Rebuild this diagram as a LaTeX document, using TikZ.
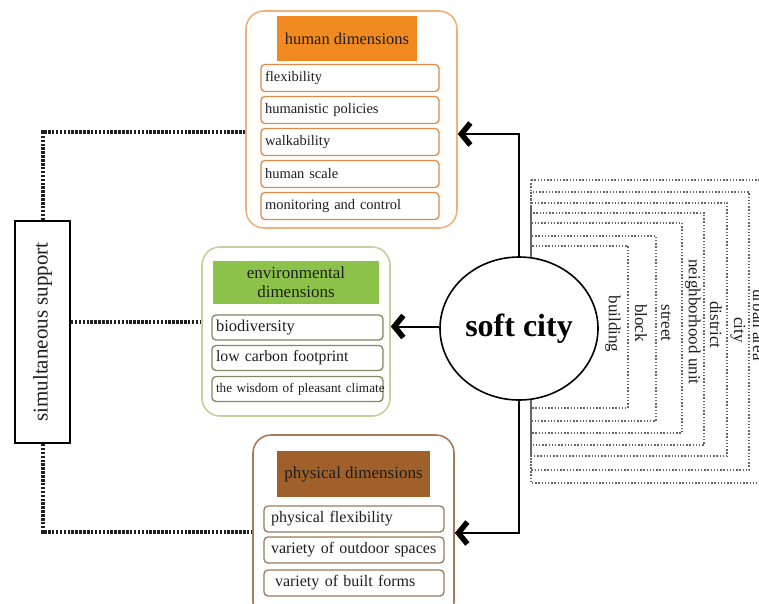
\documentclass[tikz,border=0pt]{standalone}
\usepackage{fontspec}
\usepackage{graphicx}
\setmainfont{Liberation Serif}
\usetikzlibrary{arrows.meta,shapes.geometric}
\definecolor{orgline}{HTML}{F2B07A}
\definecolor{orgfill}{HTML}{F28A22}
\definecolor{orgitem}{HTML}{E08A4A}
\definecolor{grnline}{HTML}{BFD49A}
\definecolor{grnfill}{HTML}{8CC24A}
\definecolor{grnitem}{HTML}{7E8A62}
\definecolor{brnline}{HTML}{A87A55}
\definecolor{brnfill}{HTML}{A0602A}
\definecolor{brnitem}{HTML}{9A7A60}
\definecolor{txt}{HTML}{1E1E1E}
\tikzset{
  outerbox/.style={draw, line width=1.6pt, rounded corners=18pt, minimum width=#1, inner sep=0pt},
  headbox/.style={rectangle, inner sep=0pt, text=txt, align=center},
  itembox/.style={draw, line width=1.3pt, rounded corners=4pt, inner ysep=0pt, align=left, text=txt},
  conn/.style={line width=2pt, -{Straight Barb[length=9pt,width=22pt,line width=5.5pt]}},
  supportline/.style={line width=4pt, dash pattern=on 2.5pt off 1.4pt, draw=black!88},
  levelline/.style={line width=1.4pt, dash pattern=on 1.4pt off 1.8pt, draw=black!60},
  leveltext/.style={rotate=-90, font=\fontsize{17}{19}\selectfont, text=txt, inner sep=0pt}
}
\begin{document}
\begin{tikzpicture}[x=1pt,y=-1pt]
\useasboundingbox[fill=white] (0,0) rectangle (759,603);

% nested scale brackets
\draw[levelline] (531,180) rectangle (800,483);
\draw[levelline] (531,192) rectangle (749,470);
\draw[levelline] (531,203) rectangle (727,456);
\draw[levelline] (531,213) rectangle (704,445);
\draw[levelline] (531,223) rectangle (682,433);
\draw[levelline] (531,236) rectangle (656,421);
\draw[levelline] (531,246) rectangle (628,408);
\node[leveltext] (lurban) at (759,325) {urban area};
\node[leveltext] (lcity) at (738,330) {city};
\node[leveltext] (ldist) at (716,325) {district};
\node[leveltext] (lneigh) at (693,322) {neighborhood unit};
\node[leveltext] (lstreet) at (666,323) {street};
\node[leveltext] (lblock) at (641,323) {block};
\node[leveltext] (lbuild) at (613,324) {building};

% soft city
\node[ellipse, draw, line width=1.6pt, fill=white, minimum width=158pt, minimum height=143pt, inner sep=0pt,
  font=\fontsize{32}{36}\selectfont\bfseries] (sc) at (519,328.5) {soft city};

% human dimensions
\node[outerbox=211pt, draw=orgline, minimum height=217pt] (hum) at (351.5,119.5) {};
\node[headbox, fill=orgfill, minimum width=140pt, minimum height=45pt, font=\fontsize{16.5}{19}\selectfont] (humh) at (347,38.5) {human dimensions};
\begin{scope}[every node/.style={itembox, draw=orgitem, text width=170pt, inner xsep=4pt, minimum height=27pt, font=\fontsize{14.5}{16}\selectfont}]
\node (h1) at (350,78) {flexibility};
\node (h2) at (350,110) {humanistic policies};
\node (h3) at (350,142) {walkability};
\node (h4) at (350,174) {human scale};
\node (h5) at (350,206) {monitoring and control};
\end{scope}

% environmental dimensions
\node[outerbox=188pt, draw=grnline, minimum height=169pt] (env) at (296,331.5) {};
\node[headbox, fill=grnfill, minimum width=166pt, minimum height=43pt, font=\fontsize{17}{19}\selectfont] (envh) at (296,282.5) {environmental\\dimensions};
\begin{scope}[every node/.style={itembox, draw=grnitem, text width=163pt, inner xsep=4pt, minimum height=25pt}]
\node[font=\fontsize{16.5}{18}\selectfont] (e1) at (297.5,327.5) {biodiversity};
\node[font=\fontsize{15.8}{18}\selectfont] (e2) at (297.5,358) {low carbon footprint};
\node[font=\fontsize{13.2}{15}\selectfont] (e3) at (297.5,389) {\mbox{the wisdom of pleasant climate}};
\end{scope}

% physical dimensions
\node[outerbox=201pt, draw=brnline, minimum height=185pt] (phys) at (353.5,527.5) {};
\node[headbox, fill=brnfill, minimum width=153pt, minimum height=46pt, font=\fontsize{17}{19}\selectfont] (physh) at (353.5,474) {physical dimensions};
\begin{scope}[every node/.style={itembox, draw=brnitem, text width=166pt, inner xsep=7pt, minimum height=26pt, font=\fontsize{16}{18}\selectfont}]
\node (p1) at (354,519) {physical flexibility};
\node (p2) at (354,550) {variety of outdoor spaces};
\node (p3) at (354,583) {\hspace*{4pt}variety of built forms};
\end{scope}

% simultaneous support
\node[draw, line width=1.8pt, minimum width=55pt, minimum height=222pt, inner sep=0pt, text=txt,
  font=\fontsize{21}{24}\selectfont] (sim) at (42.5,332) {\rotatebox{90}{simultaneous support}};

% support connectors
\draw[supportline] (sim.north) |- ([yshift=-12.5pt]hum.west);
\draw[supportline] ([yshift=10pt]sim.east) -- ([yshift=10pt]sim.east -| env.west);
\draw[supportline] (sim.south) |- ([yshift=-4.5pt]phys.west);

% arrows from soft city
\draw[conn] (sc.north) |- ([yshift=-14.5pt]hum.east);
\draw[conn] ([yshift=2pt]sc.west) -- ([yshift=2pt]sc.west -| env.east);
\draw[conn] (sc.south) |- ([yshift=-5.5pt]phys.east);
\end{tikzpicture}
\end{document}
